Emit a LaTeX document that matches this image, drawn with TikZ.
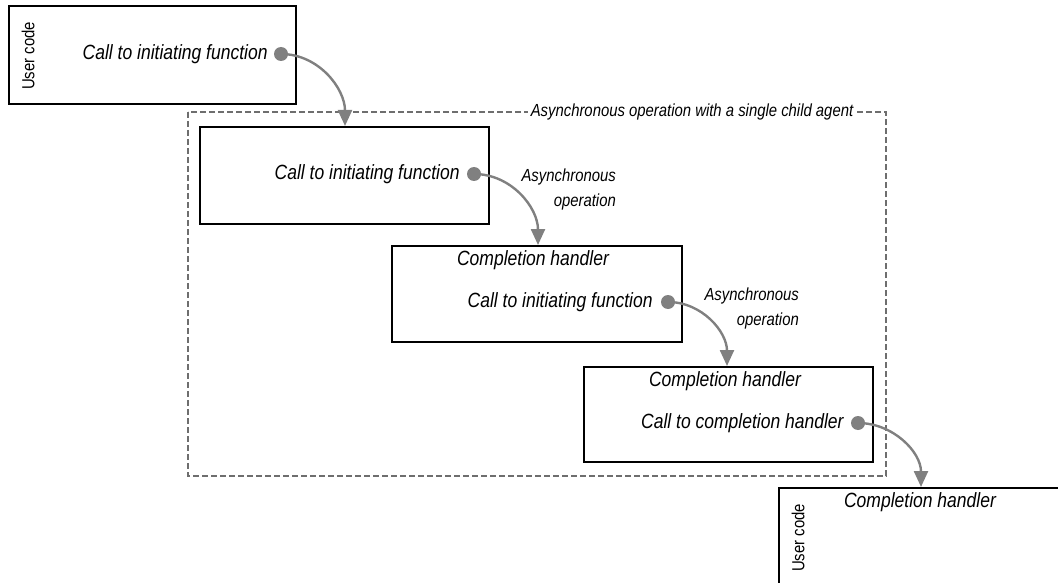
\documentclass[tikz,border=0pt]{standalone}
\usepackage{fontspec}
\newfontfamily\narrowsans[FakeStretch=0.85]{Liberation Sans}
\usetikzlibrary{arrows.meta,positioning}
\definecolor{flowgrey}{HTML}{808080}
\definecolor{framegrey}{HTML}{6E6E6E}
\tikzset{
  box/.style = {draw=black, line width=2.4pt, rectangle, inner sep=0pt},
  dot/.style = {circle, fill=flowgrey, minimum size=14pt, inner sep=0pt},
  call/.style = {font=\narrowsans\itshape\fontsize{20.6}{24}\selectfont, inner sep=0pt},
  note/.style = {font=\narrowsans\itshape\fontsize{17.5}{25}\selectfont, inner sep=0pt, align=right},
  side/.style = {font=\narrowsans\fontsize{17.5}{21}\selectfont, inner sep=0pt, rotate=90},
  flow/.style = {draw=flowgrey, line width=2.4pt, -{Triangle[length=16pt,width=14pt]}},
}
\begin{document}
\begin{tikzpicture}[x=1pt, y=-1pt]
\useasboundingbox (0,0) rectangle (1058,583);
\clip (0,0) rectangle (1058,583);
% outer frame of the operation
\draw[framegrey, line width=1.5pt, dash pattern=on 6pt off 3pt] (188,112) rectangle (886,476);
\node[note, fill=white, inner xsep=3pt, anchor=center] (agent) at (692,112) {Asynchronous operation with a single child agent};
% boxes
\node[box, minimum width=287pt, minimum height=98pt] (box1) at (152.5,55) {};
\node[box, minimum width=289pt, minimum height=97pt] (box2) at (344.5,175.5) {};
\node[box, minimum width=290pt, minimum height=96pt] (box3) at (537,294) {};
\node[box, minimum width=289pt, minimum height=95pt] (box4) at (728.5,414.5) {};
\node[box, minimum width=291pt, minimum height=104pt] (box5) at (924.5,540) {};
% side labels
\node[side] (user1) at (28,56) {User code};
\node[side] (user2) at (798,538) {User code};
% dots and calls
\node[dot] (dot1) at (281,54) {};
\node[call, left=6pt of dot1] (call1) {Call to initiating function};
\node[dot] (dot2) at (474,174) {};
\node[call, left=7pt of dot2] (call2) {Call to initiating function};
\node[dot] (dot3) at (668,302) {};
\node[call, left=8pt of dot3] (call3) {Call to initiating function};
\node[dot] (dot4) at (858,423) {};
\node[call, left=7pt of dot4] (call4) {Call to completion handler};
% completion handlers
\node[call] (done3) at (533,260) {Completion handler};
\node[call] (done4) at (725,381) {Completion handler};
\node[call] (done5) at (920,502) {Completion handler};
% operation notes
\node[note, anchor=east] (op2) at (616,189.5) {Asynchronous\\operation};
\node[note, anchor=east] (op3) at (799,308) {Asynchronous\\operation};
% arrow ends
\coordinate (tip2) at (345,126);
\coordinate (tip3) at (538,245);
\coordinate (tip4) at (727,366);
\coordinate (tip5) at (921,487);
\draw[flow] (dot1.center) to[out=0, in=90] (tip2);
\draw[flow] (dot2.center) to[out=0, in=90] (tip3);
\draw[flow] (dot3.center) to[out=0, in=90] (tip4);
\draw[flow] (dot4.center) to[out=0, in=90] (tip5);
\end{tikzpicture}
\end{document}
